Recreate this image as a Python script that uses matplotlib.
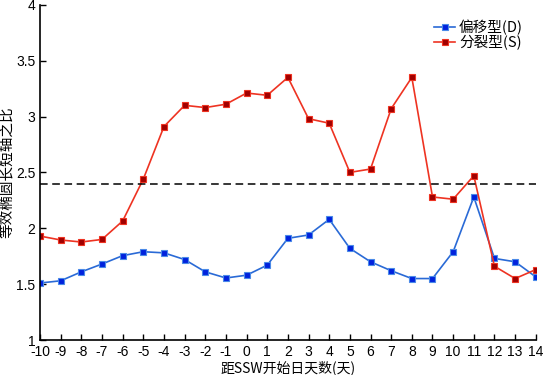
import numpy as np
import matplotlib
matplotlib.use("Agg")
import matplotlib.pyplot as plt

plt.rcParams['font.family'] = ['Noto Sans CJK SC', 'DejaVu Sans']
plt.rcParams['axes.unicode_minus'] = False

days = list(range(-10, 15))
offset_d = [1.51, 1.53, 1.61, 1.68, 1.755, 1.79, 1.78, 1.72, 1.61, 1.555, 1.58, 1.67,
            1.91, 1.94, 2.08, 1.82, 1.70, 1.62, 1.55, 1.55, 1.79, 2.28, 1.73, 1.70, 1.565]
split_s = [1.93, 1.895, 1.877, 1.90, 2.065, 2.44, 2.91, 3.10, 3.08, 3.11, 3.21, 3.19,
           3.35, 2.98, 2.94, 2.50, 2.53, 3.07, 3.35, 2.28, 2.26, 2.47, 1.66, 1.55, 1.63]
threshold = 2.4

fig = plt.figure(figsize=(5.43, 3.75), dpi=100)
ax = fig.add_axes([0.0737, 0.0933, 0.913, 0.894])

ax.plot(days, offset_d, color='#2a6ad6', lw=1.2, marker='s', ms=5,
        mfc='#0022dd', mec='#4a8ae8', mew=0.8, label='偏移型(D)')
ax.plot(days, split_s, color='#ee3322', lw=1.2, marker='s', ms=5,
        mfc='#a00000', mec='#ee3322', mew=0.8, label='分裂型(S)')
ax.axhline(threshold, color='black', lw=1.1, ls=(0, (5, 3)))

ax.set_xlim(-10, 14)
ax.set_ylim(1, 4)
ax.set_xticks(days)
ax.set_yticks([1, 1.5, 2, 2.5, 3, 3.5, 4])
ax.set_yticklabels(['1', '1.5', '2', '2.5', '3', '3.5', '4'])
ax.tick_params(direction='in', length=4, labelsize=10, width=1)
ax.tick_params(axis='x', pad=3.5)
ax.tick_params(axis='y', pad=3.5)
for lab in ax.get_xticklabels() + ax.get_yticklabels():
    lab.set_family(['Liberation Sans', 'DejaVu Sans'])
ax.spines['top'].set_visible(False)
ax.spines['right'].set_visible(False)
ax.spines['left'].set_linewidth(1.2)
ax.spines['bottom'].set_linewidth(1.2)

ax.set_xlabel('距SSW开始日天数(天)', fontsize=10)
ax.set_ylabel('等效椭圆长短轴之比', fontsize=10.5)
ax.xaxis.set_label_coords(0.5, -0.06)
ax.yaxis.set_label_coords(-0.05, 0.5)
ax.legend(loc='upper right', frameon=False, fontsize=10.5, handlelength=1.4,
          handletextpad=0.3, borderaxespad=0.3, labelspacing=0.0,
          bbox_to_anchor=(0.995, 0.985))

fig.savefig('out.png', dpi=100)
